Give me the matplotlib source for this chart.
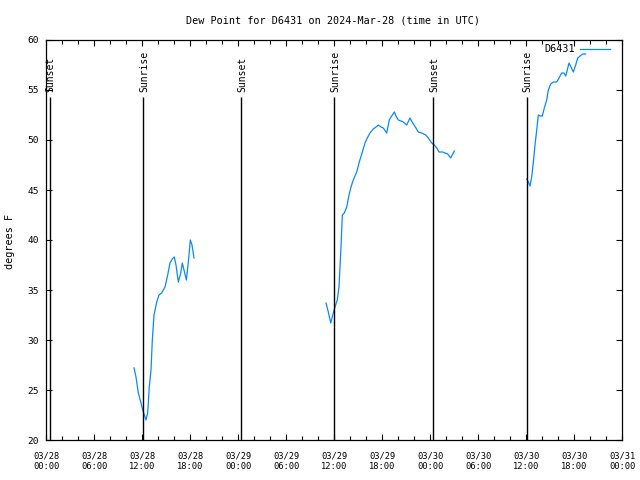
import matplotlib
matplotlib.use("Agg")
import matplotlib.pyplot as plt
from matplotlib.ticker import MultipleLocator

# hours since 03/28 00:00 UTC
seg1_t = [11.0, 11.25, 11.54, 11.84, 12.09, 12.25, 12.5, 12.71, 12.91, 13.125, 13.29, 13.5,
          13.84, 14.125, 14.46, 14.875, 15.21, 15.5, 15.79, 16.04, 16.25, 16.54, 16.84, 17.04,
          17.34, 17.54, 17.75, 17.875, 18.04, 18.25, 18.5]
seg1_v = [27.2, 26.3, 24.7, 23.8, 23.0, 22.6, 22.0, 22.7, 25.3, 27.0, 30.0, 32.5,
          33.8, 34.5, 34.7, 35.3, 36.5, 37.7, 38.1, 38.3, 37.5, 35.8, 36.7, 37.7,
          36.7, 36.0, 37.5, 38.5, 40.0, 39.5, 38.2]

seg2_t = [35.0, 35.29, 35.59, 35.91, 36.125, 36.41, 36.625, 36.75, 36.875, 37.04, 37.29, 37.59,
          37.875, 38.125, 38.41, 38.84, 39.16, 39.54, 39.875, 40.16, 40.5, 40.91, 41.25, 41.54,
          41.875, 42.16, 42.59, 42.91, 43.21, 43.54, 43.75, 44.04, 44.375, 44.66, 45.09, 45.5,
          45.84, 46.25, 46.54, 46.96, 47.46, 47.79, 48.21, 48.54, 48.84, 49.125, 49.59, 49.875,
          50.21, 50.59, 50.84, 51.04]
seg2_v = [33.7, 32.8, 31.7, 32.7, 33.3, 34.0, 35.3, 37.3, 39.3, 42.5, 42.7, 43.3,
          44.5, 45.3, 46.0, 46.8, 47.8, 48.8, 49.7, 50.2, 50.7, 51.1, 51.3, 51.5,
          51.3, 51.2, 50.7, 52.0, 52.4, 52.8, 52.4, 52.0, 51.9, 51.8, 51.5, 52.2,
          51.7, 51.2, 50.8, 50.7, 50.5, 50.2, 49.7, 49.5, 49.2, 48.8, 48.8, 48.7,
          48.6, 48.2, 48.6, 48.9]

seg3_t = [60.09, 60.29, 60.5, 60.71, 60.91, 61.125, 61.34, 61.54, 61.75, 62.04, 62.29, 62.59,
          62.79, 63.09, 63.41, 63.84, 64.125, 64.46, 64.75, 64.96, 65.16, 65.375, 65.625, 65.91,
          66.21, 66.46, 66.75, 67.09, 67.46]
seg3_v = [46.1, 45.8, 45.4, 46.3, 47.7, 49.5, 51.0, 52.5, 52.4, 52.4, 53.2, 54.0,
          55.0, 55.6, 55.8, 55.8, 56.2, 56.7, 56.7, 56.4, 57.0, 57.7, 57.3, 56.8,
          57.5, 58.2, 58.4, 58.6, 58.6]

event_t = [0.5, 12.15, 24.4, 36.03, 48.4, 60.1]
event_lbl = ["Sunset", "Sunrise", "Sunset", "Sunrise", "Sunset", "Sunrise"]

tick_hours = [0, 6, 12, 18, 24, 30, 36, 42, 48, 54, 60, 66, 72]
tick_labels = ["03/28\n00:00", "03/28\n06:00", "03/28\n12:00", "03/28\n18:00",
               "03/29\n00:00", "03/29\n06:00", "03/29\n12:00", "03/29\n18:00",
               "03/30\n00:00", "03/30\n06:00", "03/30\n12:00", "03/30\n18:00",
               "03/31\n00:00"]
y_ticks = [20, 25, 30, 35, 40, 45, 50, 55, 60]

MONO = "DejaVu Sans Mono"
color = "#0a88ff"

fig = plt.figure(figsize=(6.4, 4.8), dpi=100)
ax = fig.add_axes([46/640, 40/480, 576/640, 400/480])

for i, (t, v) in enumerate([(seg1_t, seg1_v), (seg2_t, seg2_v), (seg3_t, seg3_v)]):
    ax.plot(t, v, color=color, lw=0.9, label="D6431" if i == 0 else None)

for t, lbl in zip(event_t, event_lbl):
    ax.vlines(t, 20, 54.3, color="black", lw=1.0)
    ax.text(t + 0.1, 54.8, lbl, rotation=90, ha="center", va="bottom",
            fontsize=7, family=MONO)

ax.set_xlim(0, 72)
ax.set_ylim(20, 60)
ax.set_xticks(tick_hours)
ax.set_xticklabels(tick_labels, family=MONO, fontsize=6.3, linespacing=1.3)
ax.xaxis.set_minor_locator(MultipleLocator(2))
ax.set_yticks(y_ticks)
ax.set_yticklabels([str(y) for y in y_ticks], family=MONO, fontsize=6.8)

ax.tick_params(axis="both", which="both", direction="in", top=True, right=True, width=0.8)
ax.tick_params(axis="both", which="major", length=4.5)
ax.tick_params(axis="x", which="minor", length=3)
ax.tick_params(axis="x", which="major", pad=8)
ax.tick_params(axis="y", which="major", pad=5)
for s in ax.spines.values():
    s.set_linewidth(0.9)

fig.text(332.5/640, 1 - 20.5/480, "Dew Point for D6431 on 2024-Mar-28 (time in UTC)",
         ha="center", va="center", fontsize=7.3, family=MONO)
fig.text(10/640, 1 - 241/480, "degrees F", rotation=90, ha="center", va="center",
         fontsize=7.3, family=MONO)

leg = ax.legend(loc="upper right", bbox_to_anchor=((610-46)/576, (440-44.5)/400),
                markerfirst=False, frameon=False, handlelength=3.0, handletextpad=0.45,
                borderpad=0, borderaxespad=0, prop={"family": MONO, "size": 7.3})

fig.savefig("out.png", dpi=100)
